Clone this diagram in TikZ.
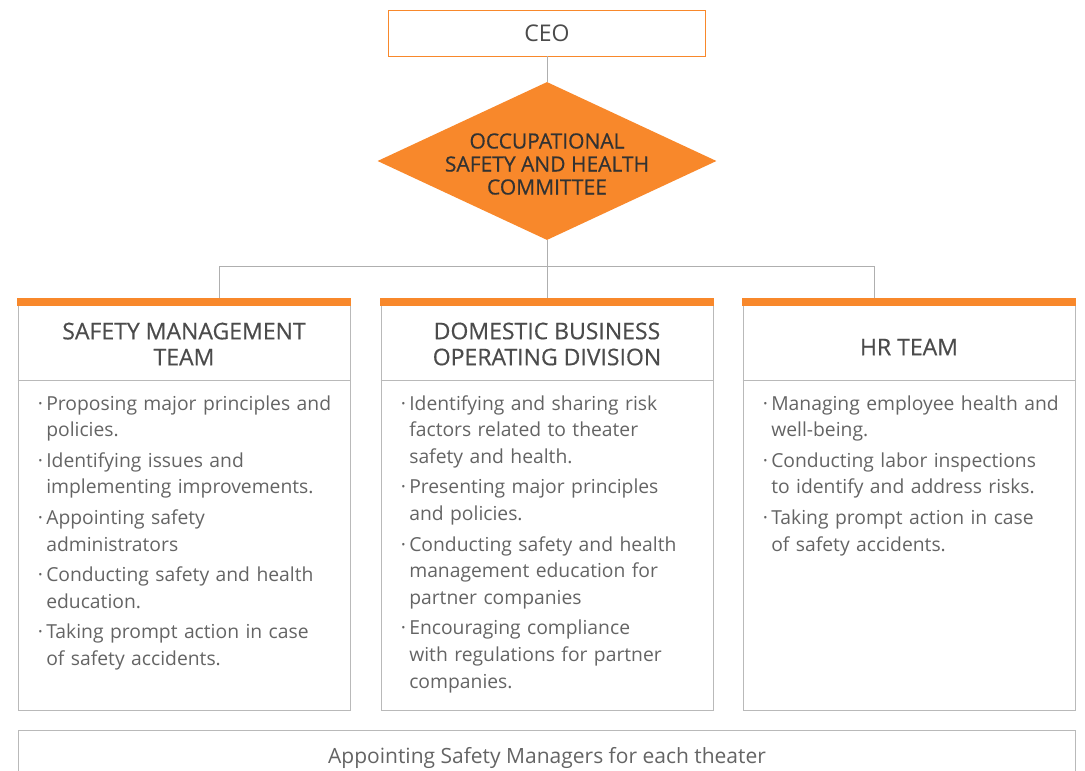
\documentclass[tikz,border=0pt]{standalone}
\usepackage{fontspec}
\setmainfont{Open Sans}
\newfontfamily\medfont{Open Sans}[FakeBold=0.5]
\usetikzlibrary{positioning, shapes.geometric}
\definecolor{orgOrange}{RGB}{248,136,43}
\definecolor{frameGray}{RGB}{185,185,185}
\definecolor{lineGray}{RGB}{175,175,175}
\definecolor{textGray}{RGB}{100,100,100}
\definecolor{headGray}{RGB}{75,75,75}
\definecolor{darkText}{RGB}{50,50,50}

% one bullet line of a team's duties, continuation lines hang under the text
\newcommand{\duty}[1]{\par\hangindent=8.5pt\hangafter=1\noindent
    \makebox[8.5pt][l]{\textperiodcentered}{\let\\\newline#1}\par\vspace{3.5pt}}

\tikzset{
    ceobox/.style={draw=orgOrange, fill=white, minimum width=317pt, minimum height=46pt,
        inner sep=0pt, font=\fontsize{23}{26}\selectfont, text=headGray},
    committee/.style={diamond, fill=orgOrange, minimum width=339pt, minimum height=158pt,
        aspect=2.15, inner sep=0pt},
    committeetext/.style={align=center, inner sep=0pt, font=\medfont\fontsize{21}{23}\selectfont, text=darkText},
    teambox/.style={draw=frameGray, line width=0.8pt, minimum width=332pt, minimum height=412pt,
        anchor=north, inner sep=0pt},
    teamhead/.style={align=center, font=\medfont\fontsize{23}{26}\selectfont, text=headGray},
    duties/.style={anchor=north west, text width=320pt, inner sep=0pt,
        font=\fontsize{19.3}{26.8}\selectfont, text=textGray},
    link/.style={draw=lineGray, line width=0.8pt}
}

\begin{document}
\begin{tikzpicture}[x=1pt, y=-1pt]
    \useasboundingbox (0,0) rectangle (1085,771);

    % CEO and committee
    \node[ceobox] (ceo) at (547,33) {CEO};
    \node[committee] (osh) at (547,161) {};
    \node[committeetext] (oshtext) at ([yshift=-3pt]osh.center) {OCCUPATIONAL\\SAFETY AND HEALTH\\COMMITTEE};
    \draw[link] (ceo) -- (osh);

    % team frames
    \node[teambox] (safety) at (184,298) {};
    \node[teambox] (domestic) at (547,298) {};
    \node[teambox] (hr) at (909,298) {};

    \foreach \t in {safety, domestic, hr} {
        \fill[orgOrange] ([xshift=-0.4pt]\t.north west) rectangle ([xshift=0.4pt, yshift=-8pt]\t.north east);
        \draw[frameGray, line width=0.8pt] ([yshift=-82pt]\t.north west) -- ([yshift=-82pt]\t.north east);
    }

    % branches from the committee
    \coordinate (busL) at (219,266);
    \coordinate (busR) at (874,266);
    \draw[link] (osh.south) -- (domestic.north);
    \draw[link] (busL |- safety.north) -- (busL) -- (busR) -- (busR |- hr.north);

    % team headings
    \node[teamhead] (safetyhead) at ([yshift=-46pt]safety.north) {SAFETY MANAGEMENT\\TEAM};
    \node[teamhead] (domestichead) at ([yshift=-46pt]domestic.north) {DOMESTIC BUSINESS\\OPERATING DIVISION};
    \node[teamhead] (hrhead) at ([yshift=-49pt]hr.north) {HR TEAM};

    % duties
    \node[duties] (safetyduties) at ([xshift=20pt, yshift=-85pt]safety.north west) {%
        \duty{Proposing major principles and\\policies.}
        \duty{Identifying issues and\\implementing improvements.}
        \duty{Appointing safety\\administrators}
        \duty{Conducting safety and health\\education.}
        \duty{Taking prompt action in case\\of safety accidents.}};
    \node[duties] (domesticduties) at ([xshift=20pt, yshift=-85pt]domestic.north west) {%
        \duty{Identifying and sharing risk\\factors related to theater\\safety and health.}
        \duty{Presenting major principles\\and policies.}
        \duty{Conducting safety and health\\management education for\\partner companies}
        \duty{Encouraging compliance\\with regulations for partner\\companies.}};
    \node[duties] (hrduties) at ([xshift=20pt, yshift=-85pt]hr.north west) {%
        \duty{Managing employee health and\\well-being.}
        \duty{Conducting labor inspections\\to identify and address risks.}
        \duty{Taking prompt action in case\\of safety accidents.}};

    % theater-level managers
    \draw[frameGray, line width=0.8pt] (18,776) -- (18,730) -- (1075,730) -- (1075,776);
    \node[font=\fontsize{21}{24}\selectfont, text=textGray] (theater) at (547,758) {Appointing Safety Managers for each theater};
\end{tikzpicture}
\end{document}
